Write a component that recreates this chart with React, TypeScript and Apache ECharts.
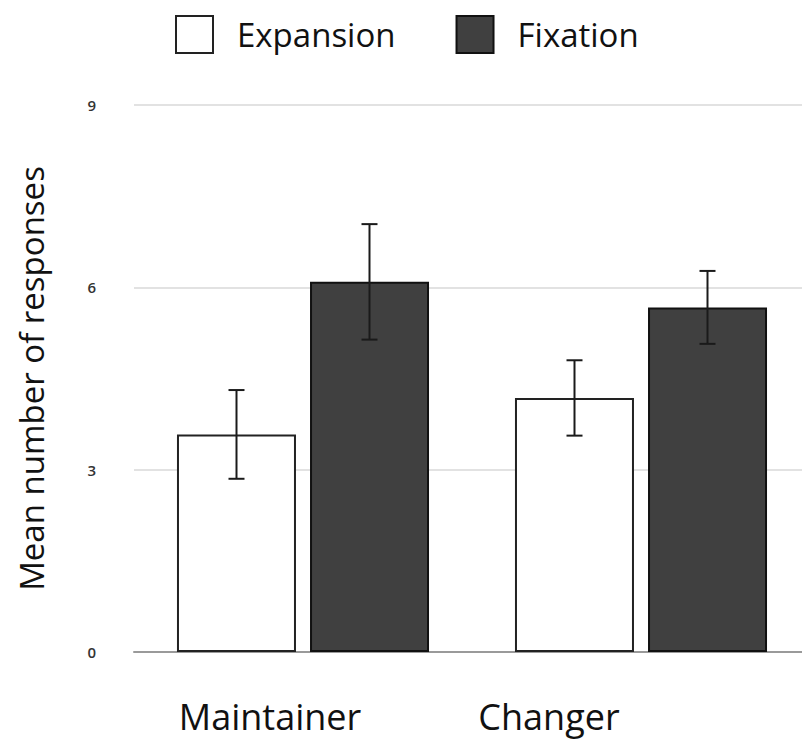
import React, { useEffect, useRef } from "react";
import * as echarts from "echarts";

const categories = ["Maintainer", "Changer"];
const seriesNames = ["Expansion", "Fixation"];
const expansionMeans = [3.58, 4.18];
const expansionErrors = [0.73, 0.62];
const fixationMeans = [6.09, 5.67];
const fixationErrors = [0.95, 0.6];
const yMin = 0;
const yMax = 9;
const yInterval = 3;

const FONT = "'Open Sans', 'Noto Sans', sans-serif";
const BAR_W = 119;
const BAR_GAP_PX = 14;

function errorSeries(name: string, means: number[], errs: number[], side: number) {
  const data = means.map((m, i) => [i, m - errs[i], m + errs[i]]);
  return {
    type: "custom",
    name: name + " error",
    z: 10,
    silent: true,
    encode: { x: 0, y: [1, 2] },
    data,
    renderItem: (params: any, api: any) => {
      const idx = api.value(0);
      const lo = api.coord([idx, api.value(1)]);
      const hi = api.coord([idx, api.value(2)]);
      const x = lo[0] + side * (BAR_W + BAR_GAP_PX) / 2;
      const cap = 8;
      const style = { stroke: "#1a1a1a", lineWidth: 2 };
      return {
        type: "group",
        children: [
          { type: "line", shape: { x1: x, y1: hi[1], x2: x, y2: lo[1] }, style },
          { type: "line", shape: { x1: x - cap, y1: hi[1], x2: x + cap, y2: hi[1] }, style },
          { type: "line", shape: { x1: x - cap, y1: lo[1], x2: x + cap, y2: lo[1] }, style },
        ],
      };
    },
  };
}

export default function App() {
  const ref = useRef<HTMLDivElement>(null);
  useEffect(() => {
    if (!ref.current) return;
    const chart = echarts.init(ref.current, null, { renderer: "svg" });
    chart.setOption({
      animation: false,
      backgroundColor: "#ffffff",
      legend: {
        data: [
          { name: seriesNames[0], itemStyle: { color: "#ffffff", borderColor: "#222", borderWidth: 2 } },
          { name: seriesNames[1], itemStyle: { color: "#404040", borderColor: "#111", borderWidth: 2 } },
        ],
        left: 175,
        top: 15,
        padding: 0,
        icon: "rect",
        itemWidth: 37,
        itemHeight: 37,
        itemGap: 60,
        textStyle: { fontFamily: FONT, fontSize: 33, color: "#111", padding: [0, 0, 0, 19] },
      },
      grid: { left: 134, right: 2, top: 105, bottom: 89, containLabel: false },
      xAxis: {
        type: "category",
        data: categories,
        axisLine: { show: true, lineStyle: { color: "#9a9a9a", width: 2 } },
        axisTick: { show: false },
        axisLabel: {
          margin: 46,
          formatter: (v: string) => (v === categories[0] ? `{a|${v}}` : `{b|${v}}`),
          rich: {
            a: { fontFamily: FONT, fontSize: 36, color: "#111", padding: [0, 66, 0, 0] },
            b: { fontFamily: FONT, fontSize: 36, color: "#111", padding: [0, 184, 0, 0] },
          },
        },
      },
      yAxis: {
        type: "value",
        min: yMin,
        max: yMax,
        interval: yInterval,
        name: "Mean number of responses",
        nameLocation: "middle",
        nameGap: 86,
        nameTextStyle: { fontFamily: FONT, fontSize: 33, color: "#111" },
        axisLine: { show: false },
        axisTick: { show: false },
        axisLabel: { margin: 38, fontFamily: FONT, fontSize: 15, fontWeight: 600, color: "#333" },
        splitLine: { lineStyle: { color: "#e2e2e2", width: 2 } },
      },
      series: [
        {
          type: "bar",
          name: seriesNames[0],
          data: expansionMeans,
          barWidth: BAR_W,
          barGap: (BAR_GAP_PX / BAR_W * 100).toFixed(1) + "%",
          itemStyle: { color: "#ffffff", borderColor: "#222", borderWidth: 2 },
        },
        {
          type: "bar",
          name: seriesNames[1],
          data: fixationMeans,
          barWidth: BAR_W,
          barGap: (BAR_GAP_PX / BAR_W * 100).toFixed(1) + "%",
          itemStyle: { color: "#404040", borderColor: "#111", borderWidth: 2 },
        },
        errorSeries(seriesNames[0], expansionMeans, expansionErrors, -1),
        errorSeries(seriesNames[1], fixationMeans, fixationErrors, 1),
      ],
    });
    return () => chart.dispose();
  }, []);
  return (
    <div style={{ width: 802, height: 741, position: "absolute", left: 0, top: 0, overflow: "hidden", background: "#fff" }}>
      <div ref={ref} style={{ width: 812, height: 741 }} />
    </div>
  );
}
